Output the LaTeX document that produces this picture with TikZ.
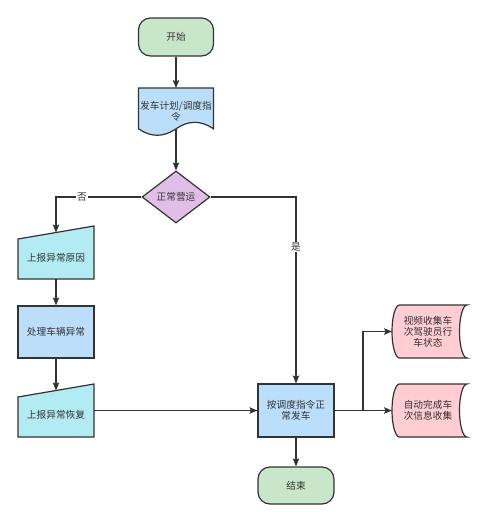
\documentclass[tikz,border=0pt]{standalone}
\usepackage{fontspec}
\setmainfont{Noto Sans CJK SC}
\usetikzlibrary{shapes.geometric,arrows.meta}
\definecolor{lnc}{HTML}{333333}
\definecolor{txc}{HTML}{333333}
\definecolor{cgreen}{HTML}{C8E6C9}
\definecolor{cblue}{HTML}{BBDEFB}
\definecolor{cpurple}{HTML}{E1BEE7}
\definecolor{ccyan}{HTML}{B2EBF2}
\definecolor{cpink}{HTML}{FFCDD2}
\begin{document}
\begin{tikzpicture}[x=1pt,y=-1pt,
  txt/.style={font=\fontsize{9.7}{11}\selectfont, text=txc, align=center, inner sep=0pt},
  shp/.style={draw=lnc, line width=1.2pt},
  ln/.style={draw=lnc, line width=1.2pt},
  conn/.style={draw=lnc, line width=1.2pt, -{Stealth[length=8pt,width=6.5pt,inset=1.5pt]}},
  lbl/.style={font=\fontsize{9.7}{11}\selectfont, text=txc, fill=white, inner sep=1pt},
  term/.style={shp, txt, fill=cgreen, rounded corners=12pt, minimum width=75pt, minimum height=38pt},
  proc/.style={shp, txt, fill=cblue, minimum width=76pt, minimum height=52pt}
]
\fill[white] (0,0) rectangle (486,523);
\useasboundingbox (0,0) rectangle (486,523);

% start
\node[term] (start) at (176,37) {开始};

% document
\draw[shp, fill=cblue] (138.5,88) -- (213.5,88) -- (213.5,128.8)
  .. controls (201,120.16) and (188.5,120.16) .. (176,128.8)
  .. controls (163.5,137.44) and (151,137.44) .. (138.5,128.8) -- cycle;
\node[txt] (docT) at (176,111.5) {发车计划/调度指\\令};
\coordinate (docTop) at (176,88);
\coordinate (docBot) at (176,128.8);

% decision
\node[shp, txt, fill=cpurple, diamond, aspect=1.3, minimum width=68pt, minimum height=52pt] (dec) at (176,197) {正常营运};

% manual input 1
\draw[shp, fill=ccyan] (18,239) -- (94,226) -- (94,279) -- (18,279) -- cycle;
\node[txt] (m1) at (56,257.5) {上报异常原因};
\coordinate (m1top) at (56,232.5);
\coordinate (m1bot) at (56,279);

% process 1
\node[proc] (p1) at (56,332) {处理车辆异常};

% manual input 2
\draw[shp, fill=ccyan] (18,397) -- (94,384) -- (94,437) -- (18,437) -- cycle;
\node[txt] (m2) at (56,414.5) {上报异常恢复};
\coordinate (m2top) at (56,390.5);
\coordinate (m2right) at (94,410.5);

% main process
\node[proc, minimum height=53pt] (p2) at (296,410.5) {按调度指令正\\常发车};

% end
\node[term, minimum width=76pt, minimum height=37pt] (end) at (296,485.5) {结束};

% data storage 1
\draw[shp, fill=cpink] (399.5,305) -- (467,305)
  .. controls (462.86,305) and (459.5,316.86) .. (459.5,331.5)
  .. controls (459.5,346.14) and (462.86,358) .. (467,358)
  -- (399.5,358)
  .. controls (395.36,358) and (392,346.14) .. (392,331.5)
  .. controls (392,316.86) and (395.36,305) .. (399.5,305) -- cycle;
\node[txt] (ds1) at (428,331.5) {视频收集车\\次驾驶员行\\车状态};
\coordinate (ds1W) at (392,331.5);

% data storage 2
\draw[shp, fill=cpink] (399.5,384) -- (467,384)
  .. controls (462.86,384) and (459.5,395.86) .. (459.5,410.5)
  .. controls (459.5,425.14) and (462.86,437) .. (467,437)
  -- (399.5,437)
  .. controls (395.36,437) and (392,425.14) .. (392,410.5)
  .. controls (392,395.86) and (395.36,384) .. (399.5,384) -- cycle;
\node[txt] (ds2) at (428,410.5) {自动完成车\\次信息收集};
\coordinate (ds2W) at (392,410.5);

% connectors
\draw[conn] (start.south) -- (docTop);
\draw[conn] (docBot) -- (dec.north);
\draw[conn] (dec.west) -| (m1top);
\draw[conn] (m1bot) -- (p1.north);
\draw[conn] (p1.south) -- (m2top);
\draw[conn] (m2right) -- (p2.west);
\draw[conn] (dec.east) -| (p2.north);
\draw[conn] (p2.south) -- (end.north);
\coordinate (jn) at (363,410.5);
\draw[ln] (p2.east) -- (jn);
\draw[conn] (jn) -- (ds2W);
\draw[conn] (jn) |- (ds1W);

% labels
\node[lbl] (no) at (82,197) {否};
\node[lbl] (yes) at (296,247) {是};
\end{tikzpicture}
\end{document}
